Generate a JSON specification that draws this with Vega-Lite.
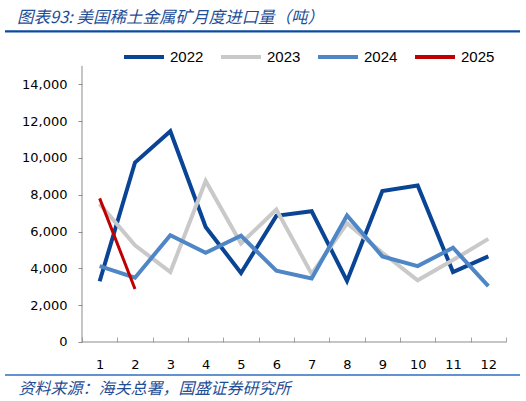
{
  "$schema": "https://vega.github.io/schema/vega-lite/v6.json",
  "width": 515,
  "height": 344,
  "autosize": "none",
  "padding": {"left": 5, "top": 31, "right": 6, "bottom": 26},
  "background": "white",
  "title": {
    "text": "图表93: 美国稀土金属矿月度进口量（吨）",
    "anchor": "start",
    "frame": "group",
    "font": "Noto Sans CJK SC",
    "fontSize": 16.5,
    "fontStyle": "italic",
    "fontWeight": "normal",
    "color": "#1f4e96",
    "dx": 12,
    "offset": 4
  },
  "data": {"values": [{}]},
  "datasets": {
    "imports": [
      {"year": "2022", "month": 1, "value": 3300},
      {"year": "2022", "month": 2, "value": 9750},
      {"year": "2022", "month": 3, "value": 11450},
      {"year": "2022", "month": 4, "value": 6250},
      {"year": "2022", "month": 5, "value": 3750},
      {"year": "2022", "month": 6, "value": 6850},
      {"year": "2022", "month": 7, "value": 7100},
      {"year": "2022", "month": 8, "value": 3320},
      {"year": "2022", "month": 9, "value": 8200},
      {"year": "2022", "month": 10, "value": 8500},
      {"year": "2022", "month": 11, "value": 3800},
      {"year": "2022", "month": 12, "value": 4650},
      {"year": "2023", "month": 1, "value": 7500},
      {"year": "2023", "month": 2, "value": 5250},
      {"year": "2023", "month": 3, "value": 3800},
      {"year": "2023", "month": 4, "value": 8750},
      {"year": "2023", "month": 5, "value": 5350},
      {"year": "2023", "month": 6, "value": 7200},
      {"year": "2023", "month": 7, "value": 3700},
      {"year": "2023", "month": 8, "value": 6450},
      {"year": "2023", "month": 9, "value": 4850},
      {"year": "2023", "month": 10, "value": 3350},
      {"year": "2023", "month": 11, "value": 4450},
      {"year": "2023", "month": 12, "value": 5600},
      {"year": "2024", "month": 1, "value": 4120},
      {"year": "2024", "month": 2, "value": 3490},
      {"year": "2024", "month": 3, "value": 5800},
      {"year": "2024", "month": 4, "value": 4850},
      {"year": "2024", "month": 5, "value": 5770},
      {"year": "2024", "month": 6, "value": 3870},
      {"year": "2024", "month": 7, "value": 3450},
      {"year": "2024", "month": 8, "value": 6870},
      {"year": "2024", "month": 9, "value": 4650},
      {"year": "2024", "month": 10, "value": 4120},
      {"year": "2024", "month": 11, "value": 5120},
      {"year": "2024", "month": 12, "value": 3040},
      {"year": "2025", "month": 1, "value": 7800},
      {"year": "2025", "month": 2, "value": 2880}
    ]
  },
  "resolve": {"axis": {"x": "independent"}},
  "layer": [
    {
      "mark": {"type": "rule", "color": "#8c8c8c", "strokeWidth": 1},
      "encoding": {
        "x": {
          "datum": 0.5,
          "axis": {
            "orient": "top",
            "offset": -311,
            "values": [0.5, 1.5, 2.5, 3.5, 4.5, 5.5, 6.5, 7.5, 8.5, 9.5, 10.5, 11.5, 12.5],
            "tickSize": 5,
            "tickColor": "#a6a6a6",
            "labels": false,
            "domain": false,
            "grid": false,
            "title": null
          }
        },
        "y": {"datum": 0},
        "y2": {"datum": 15000}
      }
    },
    {
      "mark": {"type": "rule", "color": "#8c8c8c", "strokeWidth": 1},
      "encoding": {
        "x": {"datum": 0.5, "axis": null},
        "x2": {"datum": 12.5},
        "y": {"datum": 0}
      }
    },
    {
      "mark": {"type": "rule", "color": "#0a4a9f", "strokeWidth": 2.2},
      "encoding": {"y": {"datum": 16870}}
    },
    {
      "mark": {"type": "rule", "color": "#2e6fc0", "strokeWidth": 1.5},
      "encoding": {"y": {"datum": -1793}}
    },
    {
      "data": {"name": "imports"},
      "mark": {"type": "line"},
      "encoding": {
        "x": {
          "field": "month",
          "type": "quantitative",
          "scale": {"domain": [-1.679, 12.896], "nice": false, "zero": false},
          "axis": {
            "orient": "bottom",
            "offset": -33.5,
            "values": [1, 2, 3, 4, 5, 6, 7, 8, 9, 10, 11, 12],
            "ticks": false,
            "domain": false,
            "grid": false,
            "labelFont": "DejaVu Sans",
            "labelFontSize": 13,
            "labelColor": "#000000",
            "labelPadding": 17,
            "labelFlush": false,
            "labelOverlap": false,
            "title": "资料来源：海关总署，国盛证券研究所",
            "titleFont": "Noto Sans CJK SC",
            "titleFontSize": 16,
            "titleFontStyle": "italic",
            "titleFontWeight": "normal",
            "titleColor": "#1f4e96",
            "titleAlign": "left",
            "titleAnchor": "start",
            "titleX": 13,
            "titlePadding": 9
          }
        },
        "y": {
          "field": "value",
          "type": "quantitative",
          "scale": {"domain": [-1793, 16893], "nice": false, "zero": false},
          "axis": {
            "orient": "left",
            "offset": -77,
            "values": [0, 2000, 4000, 6000, 8000, 10000, 12000, 14000],
            "labelExpr": "format(datum.value, ',')",
            "domain": false,
            "grid": false,
            "tickSize": 4,
            "tickColor": "#8c8c8c",
            "labelPadding": 11,
            "labelFont": "DejaVu Sans",
            "labelFontSize": 13,
            "labelColor": "#000000",
            "title": null
          }
        },
        "color": {
          "field": "year",
          "type": "nominal",
          "scale": {
            "domain": ["2022", "2023", "2024", "2025"],
            "range": ["#0a4595", "#c9c9c9", "#4f86c6", "#c00000"]
          },
          "legend": {
            "orient": "none",
            "legendX": 117,
            "legendY": 4,
            "direction": "horizontal",
            "title": null,
            "symbolType": "stroke",
            "symbolSize": 1600,
            "symbolStrokeWidth": 4,
            "labelFont": "Liberation Sans",
            "labelFontSize": 15,
            "labelColor": "#000000",
            "labelOffset": 4,
            "columnPadding": 9
          }
        },
        "strokeWidth": {"condition": {"test": "datum.year === '2025'", "value": 3}, "value": 4}
      }
    }
  ],
  "config": {"view": {"stroke": null}}
}
